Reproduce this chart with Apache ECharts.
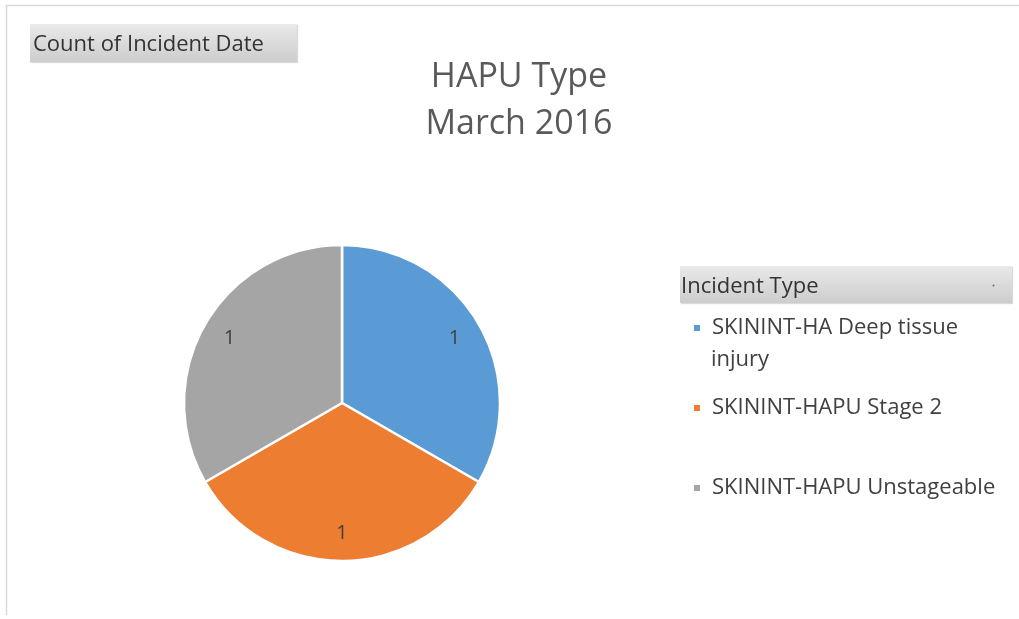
<!DOCTYPE html>
<html>
<head>
<meta charset="utf-8">
<script src="https://cdn.jsdelivr.net/npm/echarts@6/dist/echarts.min.js"></script>
<style>
  html, body { margin: 0; padding: 0; background: #fff; }
  #main { width: 1019px; height: 619px; }
</style>
</head>
<body>
<div id="main"></div>
<script>
// data
const incidentTypes = ['SKININT-HA Deep tissue injury', 'SKININT-HAPU Stage 2', 'SKININT-HAPU Unstageable']
const incidentCounts = [1, 1, 1]
const sliceColors = ['#5B9BD5', '#ED7D31', '#A5A5A5']

const titleLines = ['HAPU Type', 'March 2016']
const fieldButton = 'Count of Incident Date'
const legendHeader = 'Incident Type'

const font = '"Open Sans", "Noto Sans", sans-serif'

const pieData = incidentTypes.map((name, i) => ({
  name: name,
  value: incidentCounts[i],
  itemStyle: { color: sliceColors[i] }
}))

const btnFill = {
  type: 'linear', x: 0, y: 0, x2: 0, y2: 1,
  colorStops: [{ offset: 0, color: '#e9e9e9' }, { offset: 1, color: '#cdcdcd' }]
}

const chart = echarts.init(document.getElementById('main'))
chart.setOption({
  animation: false,
  backgroundColor: '#fff',
  title: {
    text: titleLines.join('\n'),
    left: 519,
    textAlign: 'center',
    top: 54,
    padding: 0,
    textStyle: { fontFamily: font, fontSize: 34, fontWeight: 'normal', color: '#595959', lineHeight: 47 }
  },
  legend: {
    orient: 'vertical',
    left: 692,
    top: 316,
    padding: 0,
    itemWidth: 8,
    itemHeight: 8,
    itemGap: 56,
    icon: 'rect',
    selectedMode: false,
    data: incidentTypes,
    formatter: name => name === incidentTypes[0] ? 'SKININT-HA Deep tissue' : name,
    textStyle: { fontFamily: font, fontSize: 22, fontWeight: 500, color: '#404040', lineHeight: 24, padding: [0, 0, 0, 6] }
  },
  graphic: [
    // outer frame (top and left edges)
    { type: 'line', shape: { x1: 6, y1: 5.5, x2: 1019, y2: 5.5 }, style: { stroke: '#d9d9d9', lineWidth: 1.5 } },
    { type: 'line', shape: { x1: 6.5, y1: 5, x2: 6.5, y2: 615 }, style: { stroke: '#d9d9d9', lineWidth: 1.5 } },
    // field button
    { type: 'rect', shape: { x: 30, y: 24, width: 267, height: 38 }, style: { fill: btnFill, shadowColor: 'rgba(0,0,0,0.15)', shadowOffsetX: 1, shadowOffsetY: 1, shadowBlur: 1 } },
    { type: 'text', x: 33, y: 45, style: { text: fieldButton, font: '22px ' + font, fill: '#333', verticalAlign: 'middle' } },
    // legend header
    { type: 'rect', shape: { x: 680, y: 266, width: 332, height: 37 }, style: { fill: btnFill, shadowColor: 'rgba(0,0,0,0.15)', shadowOffsetX: 1, shadowOffsetY: 1, shadowBlur: 1 } },
    { type: 'text', x: 681, y: 287, style: { text: legendHeader, font: '22px ' + font, fill: '#333', verticalAlign: 'middle' } },
    { type: 'circle', shape: { cx: 993.5, cy: 285.5, r: 1 }, style: { fill: '#666' } },
    // wrapped second line of the first legend entry
    { type: 'text', x: 711, y: 360, style: { text: 'injury', font: '500 22px ' + font, fill: '#404040', verticalAlign: 'middle' } }
  ],
  series: [
    {
      type: 'pie',
      center: [342, 403],
      radius: [0, 158],
      startAngle: 90,
      clockwise: true,
      silent: true,
      data: pieData,
      label: { show: false },
      labelLine: { show: false },
      itemStyle: { borderColor: '#fff', borderWidth: 2.5 }
    },
    {
      // transparent ring only to place the value labels near the rim
      type: 'pie',
      center: [342, 403],
      radius: [96, 158],
      startAngle: 90,
      clockwise: true,
      silent: true,
      data: pieData.map(d => ({ name: d.name, value: d.value, itemStyle: { color: 'rgba(0,0,0,0)' } })),
      label: { show: true, position: 'inside', fontFamily: font, fontSize: 20, color: '#404040', formatter: '{c}' },
      labelLine: { show: false },
      itemStyle: { borderWidth: 0 }
    }
  ]
})
</script>
</body>
</html>
